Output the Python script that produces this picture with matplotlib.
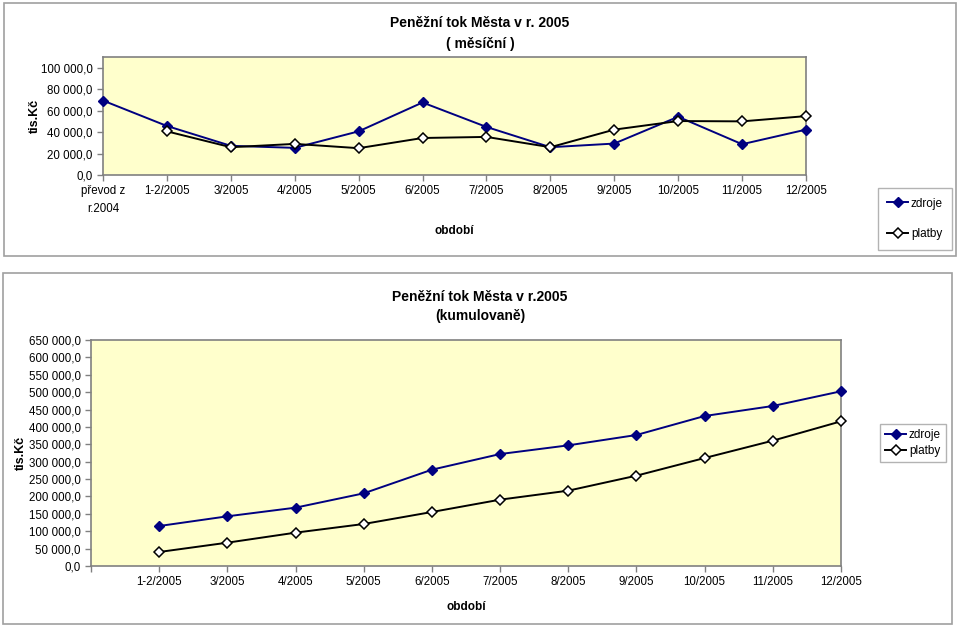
import matplotlib
matplotlib.use("Agg")
import matplotlib.pyplot as plt
from matplotlib.patches import Rectangle
from matplotlib.ticker import FuncFormatter

plt.rcParams['font.family'] = ['Liberation Sans', 'DejaVu Sans']

# monthly data (tis. Kč)
months_top = ['převod z\nr.2004', '1-2/2005', '3/2005', '4/2005', '5/2005', '6/2005',
              '7/2005', '8/2005', '9/2005', '10/2005', '11/2005', '12/2005']
zdroje_month = [69400, 45700, 27200, 25300, 40700, 67600,
                44800, 25900, 29300, 54300, 28700, 42300]
platby_month = [None, 40700, 25900, 29000, 25000, 34500,
                35500, 25900, 42300, 50300, 50000, 54900]

# cumulative data (tis. Kč)
months_cum = ['1-2/2005', '3/2005', '4/2005', '5/2005', '6/2005', '7/2005',
              '8/2005', '9/2005', '10/2005', '11/2005', '12/2005']
zdroje_cum = [115000, 142900, 167800, 209000, 277000, 322000,
              347000, 376800, 431400, 460200, 502500]
platby_cum = [40300, 67100, 95900, 120800, 155300, 190800,
              216700, 259800, 310600, 360500, 416100]

NAVY = '#000080'
BG = '#FFFFCC'
GREY = '#808080'

W, H = 960, 627
fig = plt.figure(figsize=(9.6, 6.27), dpi=100)


def fx(px):
    return px / W


def fy(py):
    return 1 - py / H


def fmt(v, pos):
    return f"{v:,.1f}".replace(",", " ").replace(".", ",")


def frame(x0, y0, x1, y1):
    fig.patches.append(Rectangle((fx(x0), fy(y1)), fx(x1) - fx(x0), fy(y0) - fy(y1),
                                 transform=fig.transFigure, fill=False,
                                 edgecolor='#a0a0a0', linewidth=1.2))


def style_ax(ax):
    ax.set_facecolor(BG)
    for s in ax.spines.values():
        s.set_color(GREY)
        s.set_linewidth(1.2)
    ax.tick_params(axis='both', colors=GREY, labelcolor='black', labelsize=8.3,
                   length=4, width=1)
    ax.yaxis.set_major_formatter(FuncFormatter(fmt))


def draw(ax, x, z, p):
    ax.plot(x, z, color=NAVY, lw=1.4, marker='D', ms=5.5, mfc=NAVY, mec=NAVY,
            label='zdroje', clip_on=False, zorder=3)
    xp = [xi for xi, v in zip(x, p) if v is not None]
    vp = [v for v in p if v is not None]
    ax.plot(xp, vp, color='black', lw=1.4, marker='D', ms=5.5, mfc='white', mec='black',
            mew=1.1, label='platby', clip_on=False, zorder=3)


def legend(ax, cx, cy, spacing, pad):
    ax.legend(loc='center', bbox_to_anchor=(fx(cx), fy(cy)), bbox_transform=fig.transFigure,
              fontsize=8.5, frameon=True, fancybox=False, edgecolor='#a0a0a0',
              labelspacing=spacing, handlelength=1.8, handletextpad=0.2,
              borderpad=pad, borderaxespad=0, markerscale=0.85)


# ---- top chart ----
frame(4, 3, 956, 256)
ax1 = fig.add_axes([fx(103), fy(175), fx(806) - fx(103), fy(57) - fy(175)])
style_ax(ax1)
x1 = list(range(len(months_top)))
draw(ax1, x1, zdroje_month, platby_month)
ax1.set_xlim(0, len(months_top) - 1)
ax1.set_ylim(0, 110000)
ax1.set_yticks(range(0, 100001, 20000))
ax1.set_xticks(x1)
ax1.set_xticklabels(months_top, linespacing=1.6)
ax1.set_ylabel('tis.Kč', fontsize=9, fontweight='bold', labelpad=0)
ax1.set_xlabel('období', fontsize=8.5, fontweight='bold')
ax1.xaxis.set_label_coords(0.5, -0.42)
fig.text(0.5, fy(23), 'Peněžní tok Města v r. 2005', ha='center', va='center',
         fontsize=10, fontweight='bold')
fig.text(0.5, fy(44), '( měsíční )', ha='center', va='center',
         fontsize=10, fontweight='bold')
legend(ax1, 915, 219, 1.6, 0.8)

# ---- bottom chart ----
frame(3, 273, 952, 624)
ax2 = fig.add_axes([fx(91), fy(566), fx(841) - fx(91), fy(340) - fy(566)])
style_ax(ax2)
x2 = list(range(len(months_cum)))
draw(ax2, x2, zdroje_cum, platby_cum)
ax2.set_xlim(-1, len(months_cum) - 1)
ax2.set_ylim(0, 650000)
ax2.set_yticks(range(0, 650001, 50000))
ax2.set_xticks([-1] + x2)
ax2.set_xticklabels([''] + months_cum)
ax2.set_ylabel('tis.Kč', fontsize=9, fontweight='bold', labelpad=1)
ax2.set_xlabel('období', fontsize=8.5, fontweight='bold')
ax2.xaxis.set_label_coords(0.5, -0.155)
fig.text(0.5, fy(297), 'Peněžní tok Města v r.2005', ha='center', va='center',
         fontsize=10, fontweight='bold')
fig.text(0.5, fy(316), '(kumulovaně)', ha='center', va='center',
         fontsize=10, fontweight='bold')
legend(ax2, 913, 443, 0.35, 0.4)

fig.savefig('out.png', dpi=100)
